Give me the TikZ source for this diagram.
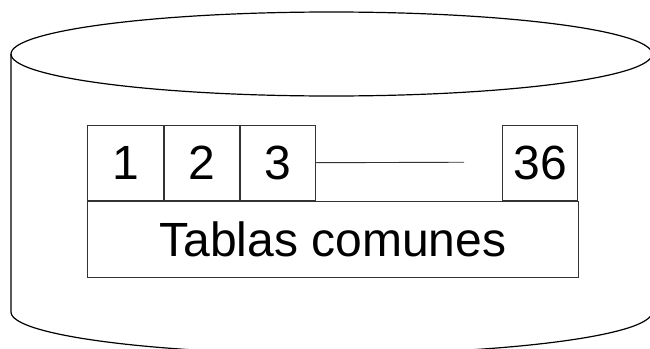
\documentclass[tikz,border=0pt]{standalone}
\usepackage{fontspec}
\setmainfont{Liberation Sans}
\usetikzlibrary{calc, positioning}
\tikzset{
    drum line/.style = {draw=black, line width=1.2pt},
    cell box/.style = {rectangle, draw=black!80, line width=0.9pt, inner sep=0pt, minimum height=75.5pt, font=\fontsize{48}{56}\selectfont},
    base box/.style = {rectangle, draw=black!80, line width=0.9pt, inner sep=0pt, minimum width=491pt, minimum height=76pt, font=\fontsize{48}{56}\selectfont}
}
\begin{document}
\begin{tikzpicture}[x=1pt, y=-1pt]
        \useasboundingbox (0,0) rectangle (650,348);
        % drum
        \draw[drum line] (331.5,54) ellipse [x radius=320.5, y radius=42];
        \draw[drum line] (11,54) -- (11,312) arc [start angle=180, end angle=360, x radius=320.5, y radius=-42] -- (652,54);

        % row of tables
        \node[cell box, minimum width=76pt, anchor=north west] (cone) at (87,124.5) {1};
        \node[cell box, minimum width=75pt, right=0pt of cone] (ctwo) {2};
        \node[cell box, minimum width=75pt, right=0pt of ctwo] (cthree) {3};
        \node[cell box, minimum width=75pt, anchor=north east] (clast) at (578,124.5) {36};
        \coordinate (dotsend) at (464,162.25);
        \draw[line width=0.9pt, black!80] (cthree.east) -- (dotsend);

        \node[base box, anchor=north west] (common) at (cone.south west) {Tablas comunes};
    \end{tikzpicture}
\end{document}
